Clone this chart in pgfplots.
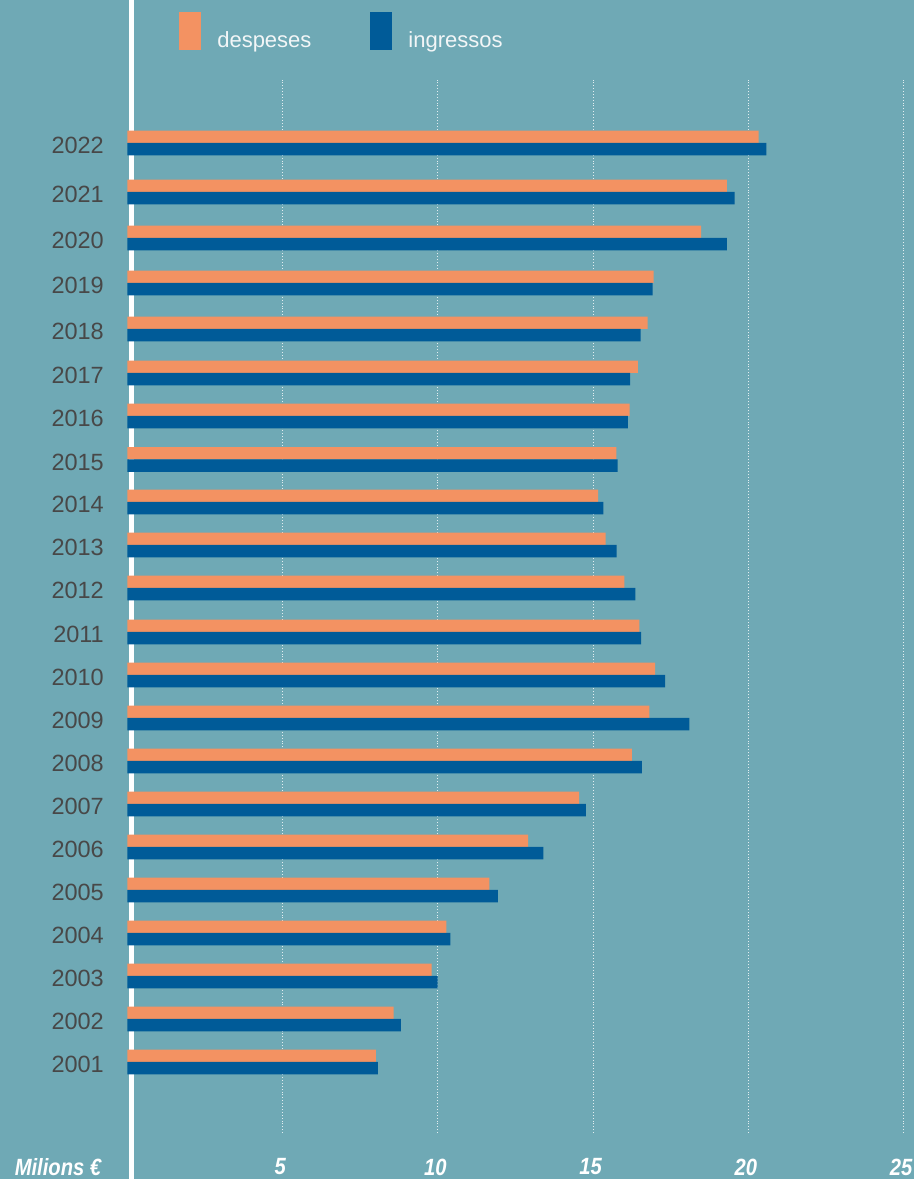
\documentclass[border=0pt]{standalone}
\usepackage{fontspec}
\setmainfont{Liberation Sans}
\newfontfamily\condfont[FakeStretch=0.86]{Liberation Sans}
\usepackage{pgfplots}
\pgfplotsset{compat=1.18}
\definecolor{bg}{HTML}{6FA9B5}
\definecolor{orangeb}{HTML}{F39262}
\definecolor{blueb}{HTML}{005B98}
\definecolor{ylab}{HTML}{484848}
\definecolor{legtext}{HTML}{F2F6F7}
\pgfplotsset{mylegend/.style={legend image code/.code={\fill[##1] (0pt,-10pt) rectangle (22pt,28pt);}}}
% category positions (vertical place of each year, in pt from the bottom of the picture)
\begin{document}
\begin{tikzpicture}[x=1pt,y=1pt]
\path[use as bounding box, fill=bg] (0,0) rectangle (914,1179);
\fill[white] (128.5,0) rectangle (133.5,1179);
\begin{axis}[
  at={(127.5pt,46pt)}, anchor=south west,
  scale only axis, width=776pt, height=1053pt,
  xmin=0, xmax=25, ymin=46, ymax=1099,
  xbar, bar width=12.3pt,
  axis line style={draw=none},
  major tick length=0pt,
  xtick={5,10,15,20,25},
  ytick={117,160,203,246,289,332,375,418,461,504,547,591,634,677,719.5,763,806,850,896,941,987,1036},
  yticklabels={2001,2002,2003,2004,2005,2006,2007,2008,2009,2010,2011,2012,2013,2014,2015,2016,2017,2018,2019,2020,2021,2022},
  xmajorgrids,
  major grid style={white, line width=0.9pt, dash pattern=on 0.9pt off 2pt, opacity=0.8},
  /pgf/number format/assume math mode=true,
  xticklabel style={font=\condfont\bfseries\itshape\fontsize{23.5}{26}\selectfont, text=white, anchor=center, inner sep=0pt, yshift=-34pt, xshift=-2.5pt},
  yticklabel style={font=\fontsize{23.5}{26}\selectfont, text=ylab, anchor=east, inner sep=0pt, xshift=-23.5pt, yshift=-2.5pt},
  legend columns=2,
  legend cell align=left,
  legend style={draw=none, fill=none, inner sep=0pt, at={(rel axis cs:0.0665,1.0646)}, anchor=north west,
    font=\fontsize{22}{26}\selectfont, text=legtext, nodes={inner sep=0pt},
    /tikz/every odd column/.append style={column sep=16pt},
    /tikz/every even column/.append style={column sep=59pt}},
  clip=false,
]
\addplot[fill=orangeb, draw=none, bar shift=6.15pt, mylegend] coordinates {
(8.00,117) (8.57,160) (9.80,203) (10.27,246) (11.66,289) (12.91,332)
(14.55,375) (16.25,418) (16.81,461) (17.00,504) (16.49,547) (16.01,591)
(15.40,634) (15.16,677) (15.75,719.5) (16.18,763) (16.44,806) (16.76,850)
(16.95,896) (18.48,941) (19.31,987) (20.33,1036)};
\addlegendentry{despeses}
\addplot[fill=blueb, draw=none, bar shift=-6.15pt, mylegend] coordinates {
(8.07,117) (8.81,160) (9.99,203) (10.40,246) (11.93,289) (13.40,332)
(14.77,375) (16.57,418) (18.10,461) (17.32,504) (16.55,547) (16.36,591)
(15.76,634) (15.33,677) (15.79,719.5) (16.12,763) (16.19,806) (16.53,850)
(16.92,896) (19.31,941) (19.56,987) (20.58,1036)};
\addlegendentry{ingressos}
\end{axis}
\node[anchor=center, text=white, inner sep=0pt, font=\condfont\bfseries\itshape\fontsize{23.5}{26}\selectfont] at (58,11.5) {Milions €};
\end{tikzpicture}
\end{document}
